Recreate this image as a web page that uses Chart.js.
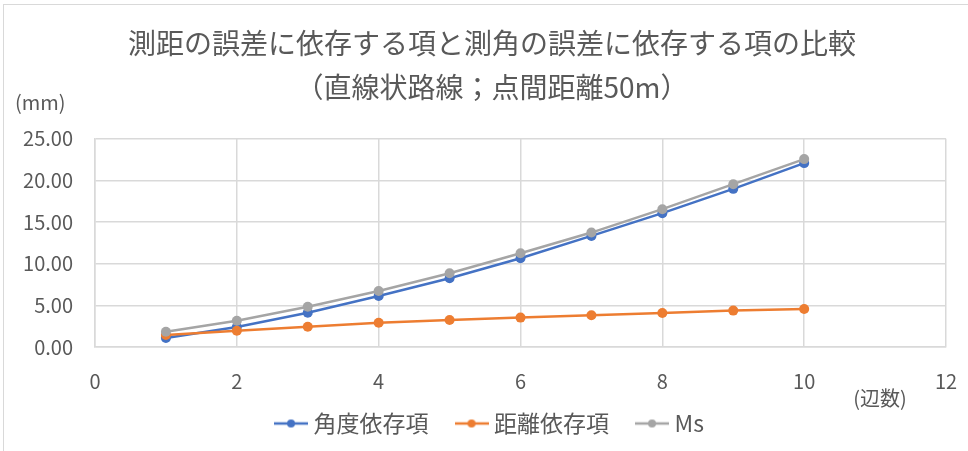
<!DOCTYPE html>
<html lang="ja">
<head>
<meta charset="utf-8">
<title>測距の誤差に依存する項と測角の誤差に依存する項の比較</title>
<script src="https://cdn.jsdelivr.net/npm/chart.js@4/dist/chart.umd.min.js"></script>
<style>
  html, body { margin: 0; padding: 0; background: #ffffff; }
  #wrap { position: relative; width: 968px; height: 451px; overflow: hidden; }
  #frame { position: absolute; left: 3px; top: 4px; width: 990px; height: 470px;
           border: 1px solid #d9d9d9; box-sizing: border-box; pointer-events: none; }
  canvas { position: absolute; left: 0; top: 0; }
</style>
</head>
<body>
<div id="wrap">
  <canvas id="chart" width="968" height="451"></canvas>
  <div id="frame"></div>
</div>
<script>
// 辺数
const sides = [1, 2, 3, 4, 5, 6, 7, 8, 9, 10];
// 角度依存項 (mm)
const angleTerm = [1.08, 2.40, 4.12, 6.13, 8.26, 10.66, 13.34, 16.07, 18.99, 22.08];
// 距離依存項 (mm)
const distanceTerm = [1.44, 1.96, 2.44, 2.92, 3.25, 3.53, 3.81, 4.09, 4.37, 4.57];
// Ms (mm)
const msTerm = [1.84, 3.16, 4.84, 6.73, 8.85, 11.26, 13.74, 16.55, 19.55, 22.56];

const seriesNames = ['角度依存項', '距離依存項', 'Ms'];
const seriesColors = ['#4472C4', '#ED7D31', '#A5A5A5'];
const titleLines = ['測距の誤差に依存する項と測角の誤差に依存する項の比較', '（直線状路線；点間距離50m）'];
const yUnit = '(mm)';
const xUnit = '(辺数)';

const textColor = '#595959';
const gridColor = '#d9d9d9';
const fontFamily = '"Noto Sans CJK JP", "Noto Sans", sans-serif';

function toPoints(values) {
  return sides.map((s, i) => ({ x: s, y: values[i] }));
}

// legend marker: short line with a dot in the middle
function legendMarker(color) {
  const c = document.createElement('canvas');
  c.width = 34; c.height = 10;
  const g = c.getContext('2d');
  g.strokeStyle = color; g.lineWidth = 2.5;
  g.beginPath(); g.moveTo(0, 5); g.lineTo(34, 5); g.stroke();
  g.fillStyle = color;
  g.beginPath(); g.arc(17, 5, 4, 0, Math.PI * 2); g.fill();
  return c;
}

// unit captions next to the axes
const unitLabels = {
  id: 'unitLabels',
  afterDraw(chart) {
    const { ctx, chartArea } = chart;
    ctx.save();
    ctx.fillStyle = textColor;
    ctx.font = '20px ' + fontFamily;
    ctx.textBaseline = 'middle';
    ctx.textAlign = 'left';
    ctx.fillText(yUnit, chartArea.left - 80, chartArea.top - 36);
    ctx.textAlign = 'center';
    ctx.fillText(xUnit, chartArea.right - 66, chartArea.bottom + 51);
    ctx.restore();
  }
};

// pull the legend's top edge up so its wide item padding does not push the plot upward
const legendLift = {
  id: 'legendLift',
  afterLayout(chart) {
    const lg = chart.legend;
    if (lg) { lg.top -= 21; }
  }
};

const values = [angleTerm, distanceTerm, msTerm];

new Chart(document.getElementById('chart'), {
  type: 'line',
  data: {
    datasets: values.map((v, i) => ({
      label: seriesNames[i],
      data: toPoints(v),
      borderColor: seriesColors[i],
      backgroundColor: seriesColors[i],
      borderWidth: 2.5,
      pointRadius: 5,
      pointHoverRadius: 5,
      pointBorderWidth: 0,
      tension: 0,
      fill: false,
      yAxisID: 'y',
      order: values.length - i
    }))
  },
  options: {
    responsive: false,
    animation: false,
    devicePixelRatio: 1,
    layout: { padding: { left: 16, right: 0, top: 0, bottom: 8 } },
    plugins: {
      title: {
        display: true,
        text: titleLines,
        color: textColor,
        font: { family: fontFamily, size: 28, weight: 'normal', lineHeight: 1.55 },
        padding: { top: 22, bottom: 30 }
      },
      legend: {
        position: 'bottom',
        maxHeight: 42,
        labels: {
          color: textColor,
          font: { family: fontFamily, size: 23 },
          usePointStyle: true,
          boxWidth: 22,
          boxHeight: 10,
          pointStyleWidth: 22,
          padding: 32,
          sort: (a, b) => a.datasetIndex - b.datasetIndex,
          generateLabels(chart) {
            return chart.data.datasets.map((ds, i) => ({
              text: ds.label,
              fillStyle: ds.borderColor,
              strokeStyle: ds.borderColor,
              lineWidth: 0,
              pointStyle: legendMarker(ds.borderColor),
              fontColor: textColor,
              hidden: !chart.isDatasetVisible(i),
              datasetIndex: i
            }));
          }
        }
      },
      tooltip: { enabled: false }
    },
    scales: {
      x: {
        type: 'linear',
        min: 0, max: 12,
        ticks: { stepSize: 2, color: textColor, font: { family: fontFamily, size: 20 }, padding: 0 },
        grid: { color: gridColor, lineWidth: 1.5, drawTicks: true, tickLength: 22, tickColor: 'rgba(0,0,0,0)' },
        border: { color: gridColor, width: 1.5 },
        afterFit(scale) { scale.height = 54; }
      },
      y: {
        min: 0, max: 25,
        ticks: {
          stepSize: 5, color: textColor, font: { family: fontFamily, size: 20 }, padding: 22,
          callback: v => Number(v).toFixed(2)
        },
        grid: { color: gridColor, lineWidth: 1.5, drawTicks: false },
        border: { color: gridColor, width: 1.5 },
        afterFit(scale) { scale.width = 79; }
      },
      // empty right-hand margin beside the plot
      yRight: {
        position: 'right',
        min: 0, max: 25,
        ticks: { display: false },
        grid: { display: false },
        border: { display: false },
        afterFit(scale) { scale.width = 22; }
      }
    }
  },
  plugins: [unitLabels, legendLift]
});
</script>
</body>
</html>
